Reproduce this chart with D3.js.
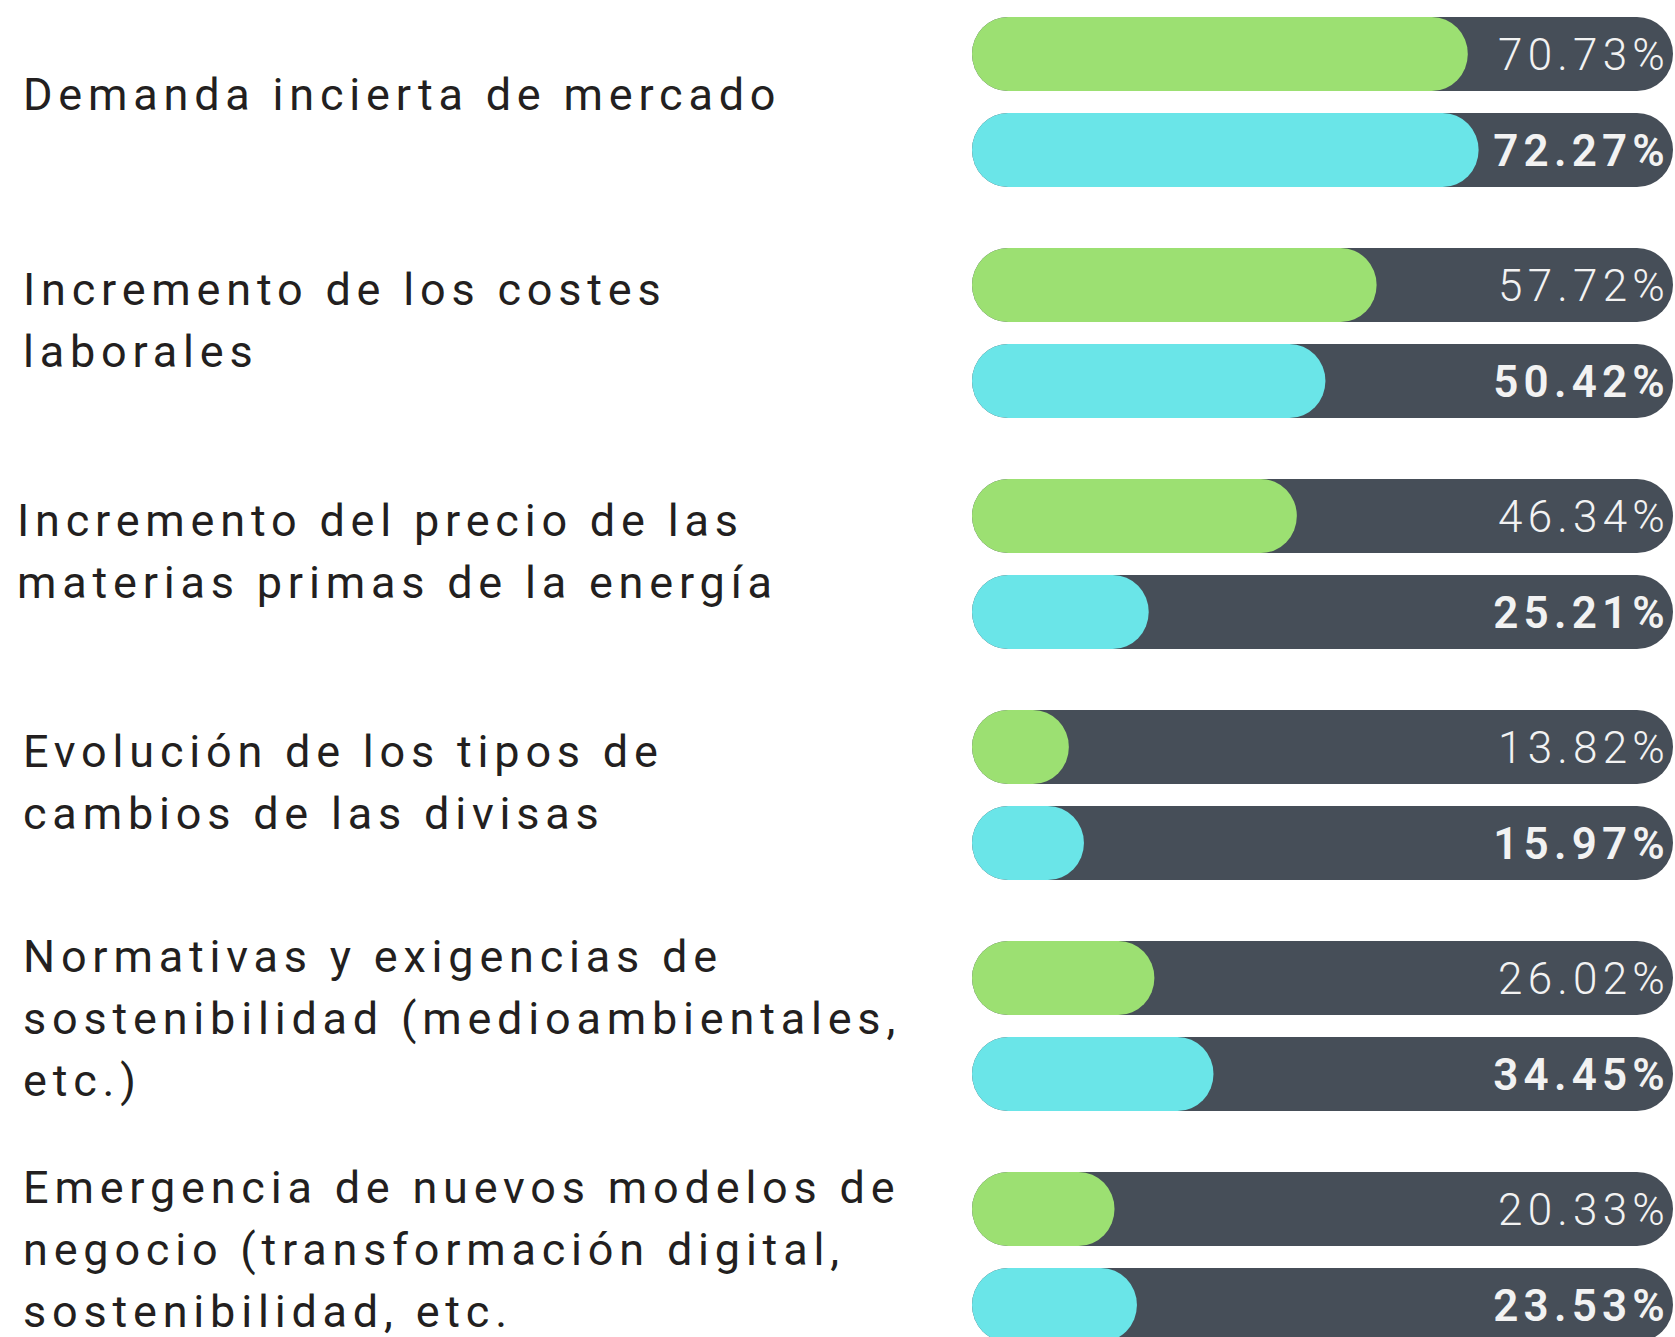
<!DOCTYPE html>
<html>
<head>
<meta charset="utf-8">
<script src="https://cdn.jsdelivr.net/npm/d3@7"></script>
<style>
  html, body { margin: 0; padding: 0; background: #fff; }
  svg { display: block; }
</style>
</head>
<body>
<script>
var categories = [
  ["Demanda incierta de mercado"],
  ["Incremento de los costes", "laborales"],
  ["Incremento del precio de las", "materias primas de la energía"],
  ["Evolución de los tipos de", "cambios de las divisas"],
  ["Normativas y exigencias de", "sostenibilidad (medioambientales,", "etc.)"],
  ["Emergencia de nuevos modelos de", "negocio (transformación digital,", "sostenibilidad, etc."]
]
var seriesA = [70.73, 57.72, 46.34, 13.82, 26.02, 20.33]
var seriesB = [72.27, 50.42, 25.21, 15.97, 34.45, 23.53]

var width = 1675, height = 1337
var barH = 74, innerGap = 96, lineH = 62
var trackLeft = 972, trackRight = 1673

var svg = d3.select("body").append("svg")
    .attr("width", width)
    .attr("height", height)

var y = d3.scaleBand()
    .domain(d3.range(categories.length))
    .range([17, 17 + 231 * categories.length])

var x = d3.scaleLinear()
    .domain([0, 100])
    .range([0, trackRight - trackLeft])

var rows = []
categories.forEach(function (c, i) {
  rows.push({ g: i, k: 0, v: seriesA[i], y: y(i) })
  rows.push({ g: i, k: 1, v: seriesB[i], y: y(i) + innerGap })
})

var colors = ["#9ce072", "#6ae5e8"]

var bar = svg.append("g").selectAll("g")
  .data(rows)
  .enter().append("g")
    .attr("transform", function (d) { return "translate(" + trackLeft + "," + d.y + ")" })

bar.append("rect")
    .attr("width", x(100))
    .attr("height", barH)
    .attr("rx", 36)
    .attr("ry", 37)
    .attr("fill", "#464e58")

bar.append("rect")
    .attr("width", function (d) { return x(d.v) })
    .attr("height", barH)
    .attr("rx", 36)
    .attr("ry", 37)
    .attr("fill", function (d) { return colors[d.k] })

bar.append("text")
    .attr("x", x(100) - 3)
    .attr("y", barH / 2)
    .attr("dy", "0.36em")
    .attr("text-anchor", "end")
    .attr("fill", "#f2f2f2")
    .style("font-family", "Roboto, 'Noto Sans', sans-serif")
    .style("font-size", "44px")
    .style("font-weight", function (d) { return d.k ? 600 : 300 })
    .style("letter-spacing", "5.2px")
    .text(function (d) { return d.v.toFixed(2) + "%" })

// category labels, vertically centred on each pair of bars
var labels = svg.append("g").selectAll("text")
  .data(categories)
  .enter().append("text")
    .attr("x", function (d, i) { return i === 2 ? 17 : 23 })
    .attr("y", function (d, i) {
      var mid = y(i) + (innerGap + barH) / 2
      return mid + 8 - (d.length - 1) * lineH / 2 - (d.length === 2 ? 5 : 0)
    })
    .attr("fill", "#231f20")
    .style("font-family", "Roboto, 'Noto Sans', sans-serif")
    .style("font-size", "45px")
    .style("font-weight", 400)
    .style("letter-spacing", "5.8px")

labels.selectAll("tspan")
  .data(function (d) { return d })
  .enter().append("tspan")
    .attr("x", function () { return d3.select(this.parentNode).attr("x") })
    .attr("dy", function (d, j) { return j ? lineH : 0 })
    .text(function (d) { return d })
</script>
</body>
</html>
